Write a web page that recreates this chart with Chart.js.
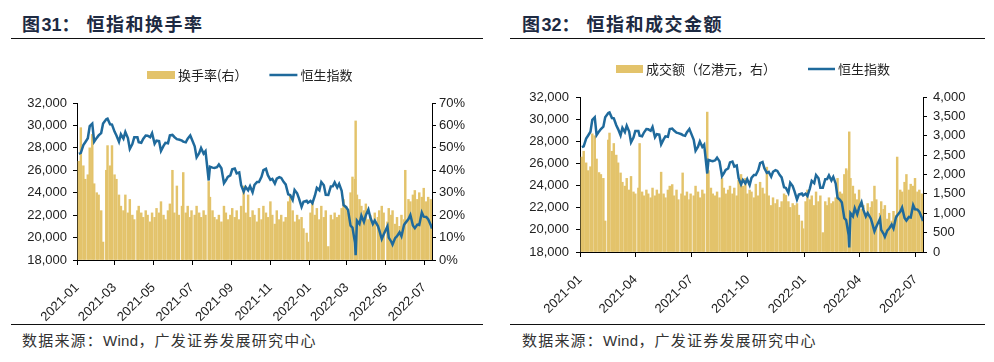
<!DOCTYPE html>
<html>
<head>
<meta charset="utf-8">
<script src="https://cdn.jsdelivr.net/npm/chart.js@4.4.0/dist/chart.umd.min.js"></script>
<style>
html,body{margin:0;padding:0;background:#fff;}
body{width:994px;height:362px;overflow:hidden;position:relative;font-family:"Noto Sans CJK SC",sans-serif;}
.title{position:absolute;top:10px;font-size:18px;font-weight:700;color:#1d2a42;letter-spacing:1.5px;line-height:26px;white-space:nowrap;}
.title .num{font-family:"Liberation Sans",Arial,sans-serif;font-weight:700;letter-spacing:0;}
.rule{position:absolute;height:0;border-top:1.5px solid #111;}
.src{position:absolute;top:330px;font-size:15px;color:#333;line-height:20px;letter-spacing:1.2px;white-space:nowrap;}
.src .en{font-family:"Liberation Sans",Arial,sans-serif;letter-spacing:0.3px;}
.box{position:absolute;top:48px;}
</style>
</head>
<body>
<div class="title" style="left:22px;">图<span class="num">31</span>：&nbsp;恒指和换手率</div>
<div class="rule" style="left:11px;width:472px;top:38px;"></div>
<div class="title" style="left:522px;">图<span class="num">32</span>：&nbsp;恒指和成交金额</div>
<div class="rule" style="left:510px;width:475px;top:38px;"></div>

<div class="box" style="left:0px;"><canvas id="c1" width="497" height="276"></canvas></div>
<div class="box" style="left:500px;"><canvas id="c2" width="494" height="276"></canvas></div>

<div class="rule" style="left:11px;width:472px;top:324px;"></div>
<div class="rule" style="left:510px;width:475px;top:324px;"></div>
<div class="src" style="left:22px;">数据来源：<span class="en">Wind</span>，广发证券发展研究中心</div>
<div class="src" style="left:522px;">数据来源：<span class="en">Wind</span>，广发证券发展研究中心</div>

<script>
// ---------------- DATA ----------------
const dates = [
  '2021-01-04','2021-01-07','2021-01-11','2021-01-14','2021-01-18','2021-01-21','2021-01-25','2021-01-28',
  '2021-02-01','2021-02-04','2021-02-08','2021-02-11','2021-02-16','2021-02-18','2021-02-22','2021-02-25',
  '2021-03-01','2021-03-04','2021-03-08','2021-03-11','2021-03-15','2021-03-18','2021-03-22','2021-03-25','2021-03-29',
  '2021-04-01','2021-04-06','2021-04-08','2021-04-12','2021-04-15','2021-04-19','2021-04-22','2021-04-26','2021-04-29',
  '2021-05-03','2021-05-06','2021-05-10','2021-05-13','2021-05-17','2021-05-20','2021-05-24','2021-05-27','2021-05-31',
  '2021-06-03','2021-06-07','2021-06-10','2021-06-15','2021-06-17','2021-06-21','2021-06-24','2021-06-28','2021-06-30',
  '2021-07-05','2021-07-08','2021-07-12','2021-07-15','2021-07-19','2021-07-22','2021-07-27','2021-07-29',
  '2021-08-02','2021-08-05','2021-08-09','2021-08-12','2021-08-16','2021-08-20','2021-08-23','2021-08-26','2021-08-30',
  '2021-09-02','2021-09-06','2021-09-09','2021-09-13','2021-09-16','2021-09-20','2021-09-23','2021-09-27','2021-09-30',
  '2021-10-04','2021-10-07','2021-10-11','2021-10-14','2021-10-18','2021-10-21','2021-10-25','2021-10-28',
  '2021-11-01','2021-11-04','2021-11-08','2021-11-11','2021-11-15','2021-11-18','2021-11-22','2021-11-25','2021-11-29',
  '2021-12-02','2021-12-06','2021-12-09','2021-12-13','2021-12-16','2021-12-20','2021-12-23','2021-12-28','2021-12-30',
  '2022-01-03','2022-01-06','2022-01-10','2022-01-13','2022-01-17','2022-01-20','2022-01-24','2022-01-27','2022-01-31',
  '2022-02-04','2022-02-07','2022-02-10','2022-02-14','2022-02-17','2022-02-21','2022-02-24','2022-02-28',
  '2022-03-03','2022-03-07','2022-03-10','2022-03-14','2022-03-15','2022-03-17','2022-03-21','2022-03-24','2022-03-28','2022-03-31',
  '2022-04-04','2022-04-07','2022-04-11','2022-04-14','2022-04-19','2022-04-21','2022-04-25','2022-04-28',
  '2022-05-04','2022-05-06','2022-05-10','2022-05-12','2022-05-16','2022-05-19','2022-05-23','2022-05-26','2022-05-30',
  '2022-06-01','2022-06-06','2022-06-09','2022-06-13','2022-06-16','2022-06-20','2022-06-23','2022-06-27','2022-06-30',
  '2022-07-04','2022-07-07','2022-07-11','2022-07-13'
];
// 恒生指数
const hsi = [
  27470,27550,28240,28500,28860,29930,30160,28550,
  28890,29110,29320,30170,30550,30600,30100,30070,
  29450,29100,28540,29210,28830,29410,28880,27900,28340,
  28940,28940,28500,28450,28790,29100,29080,28950,29300,
  28360,28640,28600,27720,28170,28450,28410,29110,29150,
  28970,28780,28740,28640,28560,28490,28820,29110,28830,
  28140,27150,27520,27990,27490,27700,25090,26320,
  26240,26200,26280,26520,26180,24850,25110,25410,25540,
  26090,26160,25720,25810,24670,24100,24510,24210,24580,
  24040,24700,24960,24960,25410,26020,26130,25560,
  25150,25230,24810,25250,25390,25320,24950,24740,23850,
  23790,23350,24250,23950,23480,22740,23190,23280,23110,
  23270,23070,23750,24430,24220,24950,24660,23810,23800,
  24570,24580,24920,24460,24790,24170,22900,22710,
  22470,21060,20890,19530,18420,21500,21220,21950,21400,22000,
  22500,21810,21210,21520,21030,20680,19870,20280,
  21000,20000,19630,19380,19950,20120,20470,20120,21120,
  21290,21650,22010,21070,20840,21160,21120,22230,21860,
  21830,21640,21120,20800
];
// 换手率 (%)
const turnoverRate = [
  44,59,42,36,38,50,56,34,
  30,29,22,8,40,51,42,51,
  38,36,29,24,22,29,21,27,20,
  18,22,24,21,19,22,20,17,21,
  19,23,21,26,20,18,22,25,40,
  21,33,20,24,39,21,24,19,22,
  20,24,21,19,22,20,35,28,
  22,19,18,20,17,24,21,18,20,
  23,19,22,18,24,33,21,29,19,
  22,20,17,23,18,24,21,19,
  26,20,16,22,18,20,17,19,26,
  29,22,17,20,18,19,14,12,8,
  21,26,20,23,18,24,19,22,6,
  20,18,21,19,20,23,27,24,
  21,30,37,36,62,29,27,24,22,25,
  18,20,17,21,19,22,24,21,
  17,23,20,22,16,19,15,20,18,
  40,27,26,29,31,27,30,28,32,
  26,28,27,25
];
// 成交额 (亿港元)
const turnoverValue = [
  2450,2600,2300,2100,2200,3050,3000,2400,
  2050,2000,1900,800,2890,3070,2600,2800,
  2500,2300,2040,1800,1700,1900,1600,1950,1550,
  1500,1650,2800,1550,1450,1600,1500,1400,1650,
  1450,1600,1500,2060,1500,1400,1600,1700,1740,
  1450,1600,1350,1500,2040,1450,1550,1350,1500,
  1450,1700,1550,1400,1600,1500,3610,2100,
  1650,1500,1450,1550,1400,1900,1650,1500,1600,
  1700,1500,1650,1450,1850,2000,1700,1900,1500,
  1600,1550,1400,1750,1450,1800,1650,1500,
  2190,1450,1200,1400,1250,1350,1150,1300,1500,
  1460,1300,1150,1250,1200,1250,950,800,600,
  1300,1600,1350,1450,1200,1550,1300,1450,500,
  1300,1200,1400,1250,1300,1400,1900,1550,
  1500,2000,2150,2100,3100,1900,1700,1500,1350,1600,
  1100,1200,1000,1250,1150,1300,1700,1350,
  1000,1300,1100,1200,850,1000,800,1050,950,
  2450,1600,1550,1800,2000,1600,1750,1700,1900,
  1550,1600,1500,1450
];
const leftTickLabels = ['2021-01','2021-03','2021-05','2021-07','2021-09','2021-11','2022-01','2022-03','2022-05','2022-07'];
const rightTickLabels = ['2021-01','2021-04','2021-07','2021-10','2022-01','2022-04','2022-07'];
const startDate = '2021-01-01';
const endDate = '2022-07-13';

// ---------------- CHARTS ----------------
const BAR = '#E3C36B';
const LINE = '#1F6A9C';
Chart.defaults.font.family = '"Liberation Sans", Arial, sans-serif';
Chart.defaults.font.size = 13;
Chart.defaults.color = '#222';

const dayNum = s => Math.round((Date.parse(s) - Date.parse(startDate)) / 86400000);
const pts = arr => dates.map((d, i) => ({x: dayNum(d), y: arr[i]}));

const topLegend = {
  id: 'topLegend',
  afterDraw(chart, args, o) {
    const ctx = chart.ctx;
    ctx.save();
    ctx.font = '13px "Noto Sans CJK SC", sans-serif';
    ctx.textBaseline = 'middle';
    ctx.textAlign = 'left';
    let x = o.x;
    const y = o.y;
    chart.data.datasets.forEach(ds => {
      if (ds.type === 'line') {
        ctx.strokeStyle = ds.borderColor; ctx.lineWidth = 2.5;
        ctx.beginPath(); ctx.moveTo(x, y); ctx.lineTo(x + o.sw, y); ctx.stroke();
      } else {
        ctx.fillStyle = ds.backgroundColor;
        ctx.fillRect(x, y - 4, o.sw, 8);
      }
      x += o.sw + 3;
      ctx.fillStyle = '#222';
      ctx.fillText(ds.label, x, y);
      x += ctx.measureText(ds.label).width + o.spacing;
    });
    ctx.restore();
  }
};

function xScale(labels, h) {
  return {
    type: 'linear', min: 0, max: dayNum(endDate), offset: false,
    afterBuildTicks: ax => { ax.ticks = labels.map(l => ({value: dayNum(l + '-01')})); },
    afterFit: ax => { ax.height = h; },
    ticks: {autoSkip: false, maxRotation: 45, minRotation: 45, padding: 15,
      callback: (v, i) => labels[i]},
    grid: {drawOnChartArea: false, drawTicks: true, tickLength: 5, color: '#000', offset: false},
    border: {display: true, color: '#000', width: 1}
  };
}
function yScale(pos, min, max, step, fmt, w, pad) {
  return {
    type: 'linear', position: pos, min, max,
    afterFit: ax => { ax.width = w; },
    ticks: {stepSize: step, padding: pad, callback: fmt},
    grid: {drawOnChartArea: false, drawTicks: true, tickLength: 4, color: '#000'},
    border: {display: true, color: '#000', width: 1}
  };
}
const comma = v => v.toLocaleString('en-US');

new Chart(document.getElementById('c1'), {
  data: {datasets: [
    {type: 'bar', label: '换手率(右）', data: pts(turnoverRate), yAxisID: 'y1',
     backgroundColor: BAR, barThickness: 1.8, order: 2},
    {type: 'line', label: '恒生指数', data: pts(hsi), yAxisID: 'y',
     borderColor: LINE, borderWidth: 2.5, pointRadius: 0, tension: 0, order: 1}
  ]},
  options: {
    responsive: false, animation: false, devicePixelRatio: 1,
    layout: {padding: {top: 55, left: 0, right: 0, bottom: 0}},
    plugins: {legend: {display: false}, tooltip: {enabled: false},
      topLegend: {x: 147, y: 27, sw: 28, spacing: 22}},
    scales: {
      x: xScale(leftTickLabels, 64),
      y: yScale('left', 18000, 32000, 2000, comma, 77, 6),
      y1: yScale('right', 0, 70, 10, v => v + '%', 65, 3)
    }
  },
  plugins: [topLegend]
});

new Chart(document.getElementById('c2'), {
  data: {datasets: [
    {type: 'bar', label: '成交额（亿港元，右）', data: pts(turnoverValue), yAxisID: 'y1',
     backgroundColor: BAR, barThickness: 1.8, order: 2},
    {type: 'line', label: '恒生指数', data: pts(hsi), yAxisID: 'y',
     borderColor: LINE, borderWidth: 2.5, pointRadius: 0, tension: 0, order: 1}
  ]},
  options: {
    responsive: false, animation: false, devicePixelRatio: 1,
    layout: {padding: {top: 49, left: 0, right: 0, bottom: 0}},
    plugins: {legend: {display: false}, tooltip: {enabled: false},
      topLegend: {x: 116, y: 21, sw: 27, spacing: 32}},
    scales: {
      x: xScale(rightTickLabels, 72),
      y: yScale('left', 18000, 32000, 2000, comma, 80, 7),
      y1: yScale('right', 0, 4000, 500, comma, 71, 6)
    }
  },
  plugins: [topLegend]
});
</script>
</body>
</html>
